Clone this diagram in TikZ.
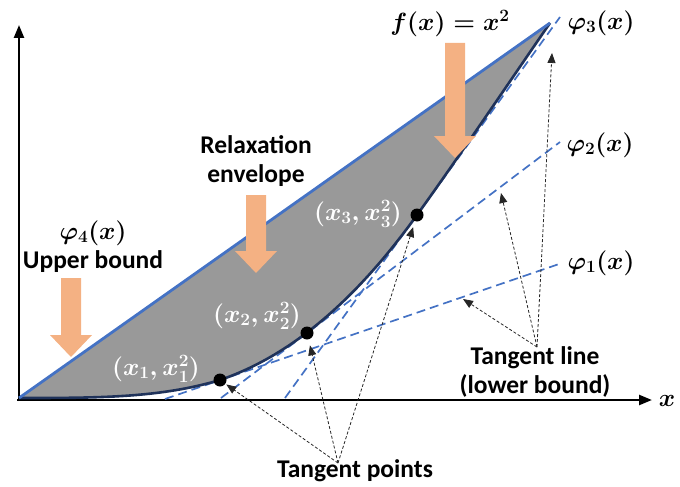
\documentclass[tikz,border=0pt]{standalone}
\usepackage{amsmath}
\usepackage[no-math]{fontspec}
\setmainfont{Carlito}
\usetikzlibrary{arrows.meta}

\definecolor{envgray}{RGB}{153,153,153}
\definecolor{ubblue}{RGB}{68,114,196}
\definecolor{curvenavy}{RGB}{31,50,90}
\definecolor{peach}{RGB}{244,177,131}

\tikzset{
  axisline/.style={line width=2.4pt,-{Triangle[length=13pt,width=10pt]}},
  tangentline/.style={ubblue,line width=1.7pt,dash pattern=on 9pt off 5pt},
  pointer/.style={black!85,line width=0.8pt,dash pattern=on 3pt off 2pt,
    -{Triangle[length=10pt,width=8pt]}},
  tpoint/.style={circle,fill=black,inner sep=0pt,minimum size=13pt},
  lbl/.style={font=\fontsize{25.5}{29}\selectfont\bfseries,align=center},
  mlbl/.style={font=\fontsize{24.5}{28}\selectfont\boldmath},
  ptlbl/.style={white,font=\fontsize{25}{28}\selectfont\boldmath},
}

% orange block arrow pointing down: centre x, top y, tip y
\newcommand\downblock[3]{%
  \fill[peach] (#1-10,#2) -- (#1+10,#2) -- (#1+10,#3-22) -- (#1+21,#3-22)
    -- (#1,#3) -- (#1-21,#3-22) -- (#1-10,#3-22) -- cycle;}

\begin{document}
\begin{tikzpicture}[x=1pt,y=-1pt]
  \useasboundingbox (0,0) rectangle (680,487);

  \coordinate (O) at (19,398);
  \coordinate (T) at (550,23);
  \coordinate (c1) at (220,380);
  \coordinate (c2) at (307,333);
  \coordinate (c3) at (417,215);

  % axes
  \draw[axisline] (19,401) -- (19,25);
  \draw[axisline] (17,400) -- (652,400);
  \node[mlbl] (xlab) at (667,401) {$x$};

  % relaxation envelope
  \fill[envgray] (O) .. controls (100,398) and (160,397.8) .. (c1)
    .. controls (286,357.4) and (351,306.7) .. (c3)
    .. controls (461,153.8) and (506,86.8) .. (T) -- cycle;

  % tangent lines
  \draw[tangentline] (165,399) -- (562,263);
  \draw[tangentline] (221,398) -- (560,142);
  \draw[tangentline] (285,398) -- (560,17);

  % f(x) and upper bound
  \draw[curvenavy,line width=2.6pt] (O) .. controls (100,398) and (160,397.8) .. (c1)
    .. controls (286,357.4) and (351,306.7) .. (c3)
    .. controls (461,153.8) and (506,86.8) .. (T);
  \draw[ubblue,line width=2.8pt] (O) -- (T);

  % tangent points
  \node[tpoint] (p1) at (c1) {};
  \node[tpoint] (p2) at (c2) {};
  \node[tpoint] (p3) at (c3) {};
  \node[ptlbl] (p1lab) at (156,369) {$(x_1,x_1^2)$};
  \node[ptlbl] (p2lab) at (257,316) {$(x_2,x_2^2)$};
  \node[ptlbl] (p3lab) at (358,214) {$(x_3,x_3^2)$};

  % block arrows
  \downblock{71}{278}{357}
  \downblock{256}{195}{273}
  \downblock{455}{43}{158}

  % labels
  \node[mlbl] (flab) at (450,24) {$f(x)=x^2$};
  \node[mlbl] (phi3) at (601,23) {$\varphi_3(x)$};
  \node[mlbl] (phi2) at (600,145) {$\varphi_2(x)$};
  \node[mlbl] (phi1) at (601,263) {$\varphi_1(x)$};
  \node[mlbl] (phi4) at (93,233) {$\varphi_4(x)$};
  \node[lbl] (ub) at (93,262) {Upper bound};
  \node[lbl] (env) at (256,161) {Relaxation\\envelope};
  \node[lbl] (tline) at (535,372) {Tangent line\\(lower bound)};
  \node[lbl] (tpts) at (355,471) {Tangent points};

  % pointers
  \coordinate (tlfoot) at (537,347);
  \coordinate (tpfoot) at (338,463);
  \coordinate (on1) at (463,299);
  \coordinate (on2) at (501,193);
  \coordinate (on3) at (552,53);
  \draw[pointer] (tlfoot) -- (on1);
  \draw[pointer] (tlfoot) -- (on2);
  \draw[pointer] (tlfoot) -- (on3);
  \draw[pointer,shorten >=1pt] (tpfoot) -- (p1);
  \draw[pointer,shorten >=6pt] (tpfoot) -- (p2);
  \draw[pointer,shorten >=6pt] (tpfoot) -- (p3);
\end{tikzpicture}
\end{document}
